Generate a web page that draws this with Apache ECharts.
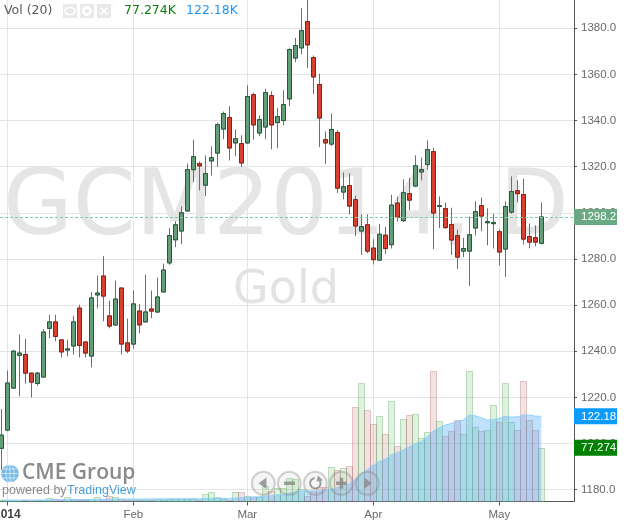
<!DOCTYPE html>
<html><head><meta charset="utf-8">
<style>html,body{margin:0;padding:0;background:#fff}#c{width:627px;height:520px}</style>
<script src="https://cdn.jsdelivr.net/npm/echarts@6/dist/echarts.min.js"></script>
</head><body><div id="c"></div>
<script>
const opens=[1197.9,1205.8,1224,1238.2,1238.6,1230.5,1226,1228.8,1249.9,1252.7,1244.9,1240.5,1242.3,1258.7,1244,1237.9,1264.4,1272.6,1255.3,1251.4,1267.4,1243.6,1243.1,1257.4,1252.7,1258.3,1257,1265.7,1278.3,1288.3,1292.1,1300.8,1318.7,1321.3,1312,1322.5,1325.9,1336.3,1341.3,1330.3,1330,1330.3,1351.2,1334.6,1337.2,1350.8,1339.1,1340,1349.4,1367.1,1371.5,1382.9,1367.3,1355.6,1331.7,1329.8,1334.8,1309,1311.8,1305.7,1292.1,1294.8,1284.7,1279.5,1290.3,1286.2,1304.2,1296.6,1308.3,1311.6,1317.7,1320.9,1326.5,1302.8,1301.8,1294.9,1290.1,1283.4,1283.4,1293.4,1303.1,1295.7,1295.3,1291.8,1284.3,1300.3,1309.6,1307.9,1289.7,1289.2,1286.8];
const closes=[1203.6,1226.2,1240,1239.2,1230.5,1226.6,1230.5,1248.3,1252.7,1246.4,1239.7,1241,1252.7,1242.5,1239.2,1263.1,1265.2,1263.9,1250.9,1262.6,1243.1,1240.1,1260.5,1251.4,1257,1257.4,1263.5,1275.2,1290.1,1294.8,1300,1318.7,1324.3,1320.3,1317,1323.9,1338.2,1343,1328.1,1332.1,1321.6,1350.4,1338.1,1340.4,1352.1,1338.1,1341.7,1346.9,1370.8,1372.5,1379,1372.8,1358.9,1341.1,1330.3,1336.1,1310.7,1311.3,1302.9,1294.3,1294,1283.4,1279.7,1290.7,1284.5,1303.3,1298.1,1308.7,1305.5,1320.4,1318.7,1327.4,1299.9,1303.1,1293.6,1288.2,1280.8,1284.5,1290.5,1300.5,1298.6,1296.2,1295.7,1283,1302.7,1309.2,1308.3,1288.6,1287.3,1287.3,1298.2];
const highs=[1214.9,1231.6,1240.5,1247.2,1245.4,1230.5,1231,1249.6,1255.8,1255.8,1244.9,1245,1255.4,1260.2,1244,1265.7,1272.8,1281.2,1261.9,1270.6,1267.4,1254.1,1266.3,1260.5,1273.2,1266.3,1271.9,1278,1293.5,1296.3,1302.8,1321.4,1331.7,1322.2,1324.9,1328.8,1339.1,1343.9,1346.2,1336.2,1333.6,1355.3,1352.1,1342.3,1353.8,1352.7,1345.5,1353.1,1371.3,1375.8,1388.7,1393.5,1368.2,1360.3,1335.3,1343.1,1335.8,1317.5,1317.1,1307.4,1299.3,1299.3,1288.6,1295.1,1294,1307.8,1307,1314.5,1315.2,1324.9,1324,1331.4,1328.2,1307.1,1304.4,1302.2,1292.7,1289.1,1298.3,1305,1306.6,1301.9,1299.6,1292.8,1305,1315.8,1314.1,1314.8,1295.4,1294.6,1304.5];
const lows=[1188.6,1205.3,1224,1220.4,1225.9,1220,1225,1228.8,1245.6,1244.3,1237.3,1237.8,1238.5,1237.3,1237.3,1233,1258.6,1253,1249.9,1251,1238.6,1239.2,1241.2,1247.8,1252.7,1254.3,1256.6,1265.7,1277.5,1285.1,1286.4,1300.8,1313.3,1309.7,1307.3,1316.2,1319.9,1331.9,1322.7,1324.5,1319.9,1330,1331.7,1333.2,1331.9,1327.5,1328,1337.9,1346.2,1365.3,1368.7,1362.8,1351.5,1328.5,1321.2,1329,1308.6,1305.8,1299.3,1289.8,1281.7,1282.5,1277.6,1279.2,1282.2,1284.5,1296.2,1296,1301.1,1311.2,1314.1,1318.8,1284.3,1293.4,1293,1281.7,1275.6,1280.8,1268.3,1290.2,1292,1285.9,1284.5,1277.2,1272.2,1299.6,1304.5,1286.3,1284.6,1285.5,1286.3];
const volumes=[1.5,1.2,1.0,1.3,1.5,1.1,1.6,1.8,4.8,3.3,1.8,6.7,1.5,2.0,1.7,3.0,6.0,4.0,8.0,6.7,3.0,2.0,2.5,1.8,2.2,1.6,3.8,2.4,3.3,3.8,3.8,3.8,3.8,2.6,10.5,13.4,6.7,3.8,2.4,13.4,13.4,7.7,6.7,6.7,22,15.4,20,20,34.4,32,18,8,15,20.6,20.6,49.3,45,48,51,135.9,169.9,131.6,111,122.5,96.7,144,79.4,118,124,125.4,90.4,99.5,187.5,115.3,93.8,101,116.8,96.7,187.5,106.7,101,102.4,138.3,113.9,169.9,113.9,102.4,172.7,116.8,102.4,77.274];
const volumeMA=[2,2,2,2,2,2,2,2,2.2,2.3,2.4,2.6,2.7,2.7,2.8,2.9,3,3,3.2,3.4,3.5,3.5,3.6,3.6,3.7,3.7,3.7,3.8,3.8,3.8,3.9,4,4,4,4.2,4.5,4.6,4.6,4.5,4.8,5.5,6.2,6.5,6.7,7.5,8.2,9.5,10,12,13.5,15,15,15,15,16,18,20,22,25,32,39,46,52,57.4,60.8,67,69.9,74,78.5,83,86,93,101,105.7,109.6,112,115,116.8,124,123,120,116.8,117.6,119,122.5,121,121.5,124,124,122.5,122.18];
const priceTicks=[1180,1200,1220,1240,1260,1280,1300,1320,1340,1360,1380];
const monthTicks=[1,22,41,62,83];
const monthLabels=['2014','Feb','Mar','Apr','May'];
const lastPrice=1298.2, lastVol=77.274, lastMA=122.18;
const UP='#639e79',UPB='#1f5c38',DN='#d9402f',DNB='#8c1f13',WICK='#6e6e6e',GRID='#e4e4e4',AXIS='#555555';

const wickData=opens.map((o,i)=>[i,o,closes[i],lows[i],highs[i]]);
const bodyData=opens.map((o,i)=>[i,o,closes[i],Math.min(o,closes[i]),Math.max(o,closes[i])]);
const volData=volumes.map((v,i)=>[i,v,closes[i]>=opens[i]?1:0]);
const maData=volumeMA.map((v,i)=>[i,v]);

const el=document.getElementById('c');
const chart=echarts.init(el,null,{renderer:'canvas',width:627,height:520});
const font='"Liberation Sans",Arial,sans-serif';
const dv='"DejaVu Sans",Verdana,sans-serif';
function txt(x,y,t,size,color,fam){return {type:'text',x,y,silent:true,z:20,style:{text:t,fontSize:size,fill:color,fontFamily:fam||font,textVerticalAlign:'middle'}}}
const btnCx=[263.3,289.3,315.3,341.3,367.3],btnCy=483.3;
const iconC='#8d8d8d';
const graphic=[
 {type:'text',z:-1,silent:true,x:286,y:211,style:{text:'GCM2014, D',fontSize:90,fontFamily:dv,fill:'#e5e5e5',textAlign:'center',textVerticalAlign:'middle'}},
 {type:'text',z:-1,silent:true,x:286,y:291,style:{text:'Gold',fontSize:46,fontFamily:dv,fill:'#e3e3e3',textAlign:'center',textVerticalAlign:'middle'}},
 txt(4,11,'Vol (20)',12.5,'#5a5a5a',dv),
 {type:'rect',z:20,silent:true,shape:{x:63,y:4,width:14,height:14},style:{fill:'#e9e9e9'}},
 {type:'rect',z:20,silent:true,shape:{x:80,y:4,width:14,height:14},style:{fill:'#e9e9e9'}},
 {type:'rect',z:20,silent:true,shape:{x:97,y:4,width:14,height:14},style:{fill:'#e9e9e9'}},
 {type:'ellipse',z:21,silent:true,shape:{cx:70,cy:11,rx:5,ry:3.5},style:{fill:'none',stroke:'#fff',lineWidth:1.6}},
 {type:'circle',z:21,silent:true,shape:{cx:87,cy:11,r:3.6},style:{fill:'none',stroke:'#fff',lineWidth:2.6}},
 {type:'line',z:21,silent:true,shape:{x1:100.5,y1:7.5,x2:107.5,y2:14.5},style:{stroke:'#fff',lineWidth:1.6}},
 {type:'line',z:21,silent:true,shape:{x1:107.5,y1:7.5,x2:100.5,y2:14.5},style:{stroke:'#fff',lineWidth:1.6}},
 txt(124,11,'77.274K',12.5,'#0a7f0a',dv),
 txt(186,11,'122.18K',12.5,'#2196f3',dv),
 {type:'circle',z:20,silent:true,shape:{cx:10,cy:473.5,r:8.8},style:{fill:'#74b8e6'}},
 {type:'ellipse',z:21,silent:true,shape:{cx:10,cy:473.5,rx:4.2,ry:8.6},style:{fill:'none',stroke:'#d4ebf9',lineWidth:.9}},
 {type:'line',z:21,silent:true,shape:{x1:1.5,y1:473.5,x2:18.5,y2:473.5},style:{stroke:'#d4ebf9',lineWidth:.9}},
 {type:'line',z:21,silent:true,shape:{x1:10,y1:465,x2:10,y2:482},style:{stroke:'#d4ebf9',lineWidth:.9}},
 {type:'line',z:21,silent:true,shape:{x1:3,y1:469,x2:17,y2:469},style:{stroke:'#d4ebf9',lineWidth:.9}},
 {type:'line',z:21,silent:true,shape:{x1:3,y1:478,x2:17,y2:478},style:{stroke:'#d4ebf9',lineWidth:.9}},
 {type:'text',z:20,silent:true,x:22,y:473,style:{text:'CME Group',fontSize:21,fontWeight:600,fontFamily:'"Open Sans",sans-serif',fill:'#8a8a8a',textVerticalAlign:'middle'}},
 txt(2,491,'powered by',12.5,'#8a8a8a'),
 txt(67,491,'TradingView',12.5,'#4a9fd4'),
];
btnCx.forEach(cx=>graphic.push({type:'circle',z:30,silent:true,shape:{cx,cy:btnCy,r:11.5},style:{fill:'rgba(190,190,190,.15)',stroke:'rgba(130,130,130,.35)',lineWidth:2}}));
graphic.push(
 {type:'polygon',z:31,silent:true,shape:{points:[[258.5,483.3],[266.5,477.5],[266.5,489]]},style:{fill:iconC,opacity:.85}},
 {type:'rect',z:31,silent:true,shape:{x:284,y:481.5,width:11,height:3.5},style:{fill:iconC,opacity:.85}},
 {type:'arc',z:31,silent:true,shape:{cx:315.3,cy:483.3,r:5.2,startAngle:-0.5,endAngle:4.6},style:{fill:'none',stroke:iconC,lineWidth:2,opacity:.85}},
 {type:'polygon',z:31,silent:true,shape:{points:[[318,475.5],[323,480.5],[316.5,481.5]]},style:{fill:iconC,opacity:.85}},
 {type:'rect',z:31,silent:true,shape:{x:336,y:481.5,width:11,height:3.5},style:{fill:iconC,opacity:.85}},
 {type:'rect',z:31,silent:true,shape:{x:339.7,y:477.7,width:3.5,height:11},style:{fill:iconC,opacity:.85}},
 {type:'polygon',z:31,silent:true,shape:{points:[[372,483.3],[364,477.5],[364,489]]},style:{fill:iconC,opacity:.85}}
);

function renderVolume(params,api){
 const i=api.value(0),v=api.value(1),up=api.value(2);
 const a=api.coord([i,v]),b=api.coord([i,0]);
 const l=Math.round(a[0]-3)+.5,t=Math.round(a[1])+.5,bt=Math.round(b[1])-.5;
 return {type:'rect',shape:{x:l,y:t,width:6,height:Math.max(bt-t,0)},
  style:{fill:up?'rgba(120,190,120,.22)':'rgba(190,110,110,.2)',stroke:up?'rgba(90,170,90,.38)':'rgba(170,90,90,.32)',lineWidth:1}};
}
chart.setOption({
 animation:false,
 backgroundColor:'#fff',
 textStyle:{fontFamily:font},
 grid:{left:0,top:0,width:574,height:501.5,containLabel:false,outerBoundsMode:'none'},
 xAxis:{type:'value',min:-0.21667,max:95.45,
  splitLine:{show:true,lineStyle:{color:GRID,width:1}},
  axisLine:{show:true,onZero:false,lineStyle:{color:AXIS,width:1}},
  axisTick:{show:true,length:4,customValues:monthTicks,lineStyle:{color:AXIS}},
  axisLabel:{show:true,customValues:monthTicks,margin:7,color:'#6a6a6a',fontSize:11.5,fontFamily:font,hideOverlap:false,showMinLabel:true,showMaxLabel:true,
   formatter:v=>{const s=monthLabels[monthTicks.indexOf(v)]||'';return s==='2014'?'{b|'+s+'}':s},
   rich:{b:{fontWeight:'bold',color:'#444',fontSize:12,fontFamily:font}}}
 },
 yAxis:[
  {type:'value',position:'right',min:1174.84,max:1392.26,
   splitLine:{show:true,lineStyle:{color:GRID,width:1}},
   axisLine:{show:true,onZero:false,lineStyle:{color:AXIS,width:1}},
   axisTick:{show:true,length:3,customValues:priceTicks,lineStyle:{color:AXIS}},
   axisLabel:{show:true,customValues:priceTicks,margin:7,color:'#6a6a6a',fontSize:11.5,fontFamily:font,formatter:v=>v.toFixed(1)}},
  {type:'value',position:'right',min:0,max:719.5,show:false,splitLine:{show:false}}
 ],
 series:[
  {type:'custom',name:'Vol',yAxisIndex:1,data:volData,encode:{x:0,y:1},renderItem:renderVolume,z:2,silent:true},
  {type:'line',name:'MA',yAxisIndex:1,data:maData,showSymbol:false,symbol:'none',z:3,silent:true,
   lineStyle:{color:'#8fd0ff',width:1},areaStyle:{color:'rgba(60,165,250,.47)'}},
  {type:'candlestick',name:'Wick',yAxisIndex:0,data:wickData,encode:{x:0,y:[1,2,3,4]},barWidth:5,z:4,silent:true,clip:false,
   itemStyle:{color:WICK,color0:WICK,borderColor:WICK,borderColor0:WICK,borderWidth:1}},
  {type:'candlestick',name:'Body',yAxisIndex:0,data:bodyData,encode:{x:0,y:[1,2,3,4]},barWidth:5,z:5,silent:true,clip:false,
   itemStyle:{color:UP,color0:DN,borderColor:UPB,borderColor0:DNB,borderWidth:1},
   markLine:{silent:true,symbol:'none',animation:false,z:6,label:{show:false},lineStyle:{color:'#7fcfa5',type:[3,2],width:1,opacity:1},data:[{yAxis:lastPrice,lineStyle:{color:'#7fcfa5',type:[3,2],width:1}}]}}
 ],
 graphic
});
const py=chart.convertToPixel({yAxisIndex:0},lastPrice);
const my=chart.convertToPixel({yAxisIndex:1},lastMA);
const vy=chart.convertToPixel({yAxisIndex:1},lastVol);
const tag=(y,t,c)=>[
 {type:'rect',z:40,silent:true,shape:{x:574,y:y-8,width:43,height:16},style:{fill:c}},
 {type:'text',z:41,silent:true,x:581,y:y,style:{text:t,fontSize:11.5,fontFamily:font,fill:'#fff',textVerticalAlign:'middle'}}
];
chart.setOption({graphic:graphic.concat(
 tag(py,'1298.2','#6aa984'),tag(my,'122.18K','#0a9bff'),tag(vy,'77.274K','#008000'),
 [{type:'rect',z:50,silent:true,shape:{x:617,y:400,width:10,height:60},style:{fill:'#fff'}}]
)});
</script></body></html>
